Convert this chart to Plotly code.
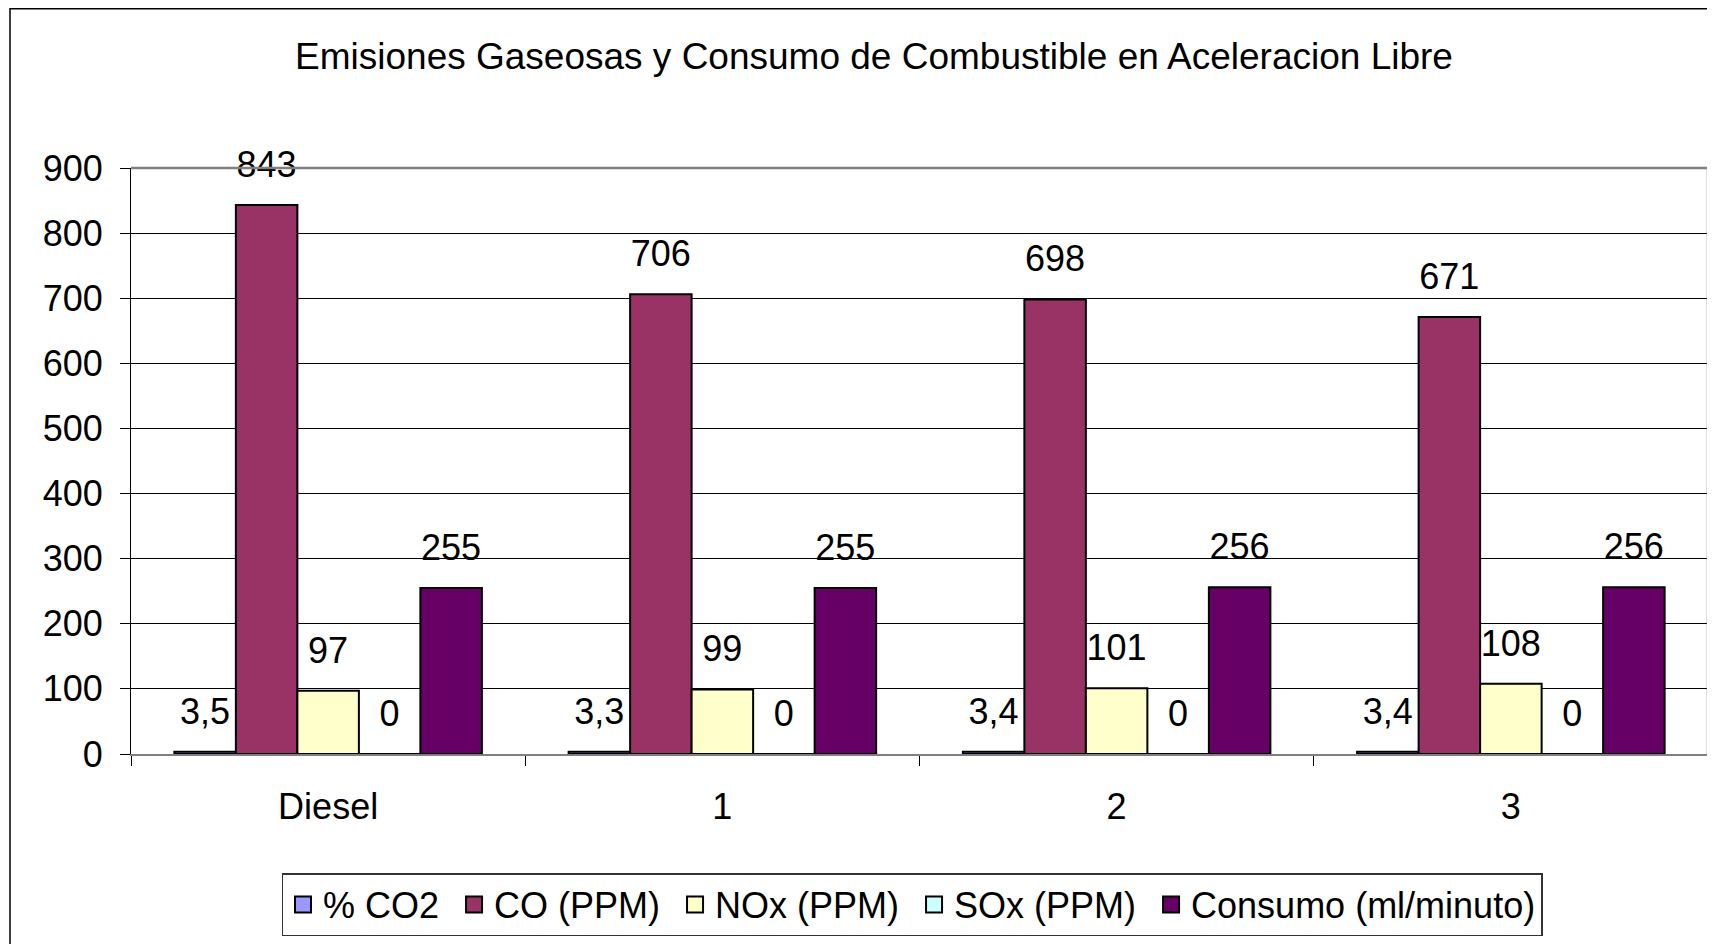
import plotly.graph_objects as go

categories = ["Diesel", "1", "2", "3"]
series_names = ["% CO2", "CO (PPM)", "NOx (PPM)", "SOx (PPM)", "Consumo (ml/minuto)"]
co2 = [3.5, 3.3, 3.4, 3.4]
co = [843, 706, 698, 671]
nox = [97, 99, 101, 108]
sox = [0, 0, 0, 0]
consumo = [255, 255, 256, 256]
colors = ["#9999FF", "#993366", "#FFFFCC", "#CCFFFF", "#660066"]
y_ticks = [0, 100, 200, 300, 400, 500, 600, 700, 800, 900]

series_values = [co2, co, nox, sox, consumo]
FONT = "Liberation Sans, Arial, sans-serif"
# page body adds an 8px offset; figure is sized to fit the window
OFF = 8
W, H = 1715 - OFF, 944 - OFF
GAP = 0.22


def fmt(v):
    return f"{v:g}".replace(".", ",")


fig = go.Figure()

for i, (name, vals, col) in enumerate(zip(series_names, series_values, colors)):
    fig.add_trace(go.Bar(
        x=categories, y=vals, name=name,
        marker=dict(color=col, line=dict(color="#000000", width=2)),
        offsetgroup=str(i), showlegend=False, hoverinfo="skip",
    ))

for i, (name, vals) in enumerate(zip(series_names, series_values)):
    fig.add_trace(go.Scatter(
        x=categories, y=vals, mode="markers+text",
        text=[fmt(v) for v in vals], textposition="top center",
        textfont=dict(family=FONT, size=36, color="#000000"),
        marker=dict(size=29, color="rgba(0,0,0,0)", line=dict(width=0)),
        offsetgroup=str(i), showlegend=False, hoverinfo="skip", cliponaxis=False,
    ))

# legend entries (drawn on a hidden overlay axis)
for j, (name, col) in enumerate(zip(series_names, colors)):
    label = name + ("\u00a0" if j < len(series_names) - 1 else "")
    fig.add_trace(go.Scatter(
        x=[None], y=[None], mode="markers", name=label,
        marker=dict(symbol="square", size=16, color=col, line=dict(color="#000000", width=2)),
        xaxis="x2", yaxis="y2", hoverinfo="skip",
    ))

ml, mr, mt, mb = 131 - OFF, 7, 168 - OFF, 190
pw = W - ml - mr
ph = H - mt - mb

fig.update_layout(
    width=W, height=H,
    margin=dict(l=ml, r=mr, t=mt, b=mb, autoexpand=False),
    paper_bgcolor="white", plot_bgcolor="white",
    barmode="group", bargap=GAP, bargroupgap=0,
    scattermode="group", scattergap=GAP,
    separators=",.",
    font=dict(family=FONT, size=36, color="#000000"),
    title=dict(
        text="Emisiones Gaseosas y Consumo de Combustible en Aceleracion Libre",
        x=(874 - OFF) / W, xref="container", xanchor="center",
        y=1 - (56 - OFF) / H, yref="container", yanchor="middle",
        font=dict(family=FONT, size=37, color="#000000"),
    ),
    xaxis=dict(
        type="category", categoryorder="array", categoryarray=categories,
        showgrid=False, tickson="boundaries", ticks="outside", ticklen=10,
        tickcolor="#000000", tickwidth=1,
        showline=True, linecolor="#808080", linewidth=1.5,
        tickfont=dict(family=FONT, size=36, color="#000000"),
        ticklabelstandoff=20,
    ),
    yaxis=dict(
        range=[0, 900], tickvals=y_ticks, ticktext=[str(t) for t in y_ticks],
        showgrid=True, gridcolor="#000000", gridwidth=1,
        ticks="outside", ticklen=10, tickcolor="#000000", tickwidth=1,
        showline=True, linecolor="#000000", linewidth=1,
        zeroline=False,
        tickfont=dict(family=FONT, size=36, color="#000000"),
        ticklabelstandoff=10,
    ),
    xaxis2=dict(overlaying="x", visible=False, range=[0, 1]),
    yaxis2=dict(overlaying="y", visible=False, range=[0, 1]),
    legend=dict(
        orientation="h", xref="container", yref="container",
        x=(912 - OFF) / W, xanchor="center", y=1 - (873 - OFF) / H, yanchor="top",
        bordercolor="#333333", borderwidth=1.5, bgcolor="white",
        font=dict(family=FONT, size=36, color="#000000"),
        itemclick=False, itemdoubleclick=False,
    ),
    shapes=[
        # outer chart border (left and top visible)
        dict(type="rect", xref="paper", yref="paper",
             x0=(10 - OFF - ml) / pw, x1=(W + 10 - ml) / pw,
             y0=-(mb + 20) / ph, y1=1 + (mt - 0.8) / ph,
             line=dict(color="#000000", width=1.5), layer="below"),
        # plot area border (gray)
        dict(type="line", xref="paper", yref="paper", x0=0, x1=1, y0=1, y1=1,
             line=dict(color="#808080", width=2.5), layer="above"),
        dict(type="line", xref="paper", yref="paper", x0=1, x1=1, y0=0, y1=1,
             line=dict(color="#808080", width=2.5), layer="above"),
    ],
)

fig.write_html("out.html")
